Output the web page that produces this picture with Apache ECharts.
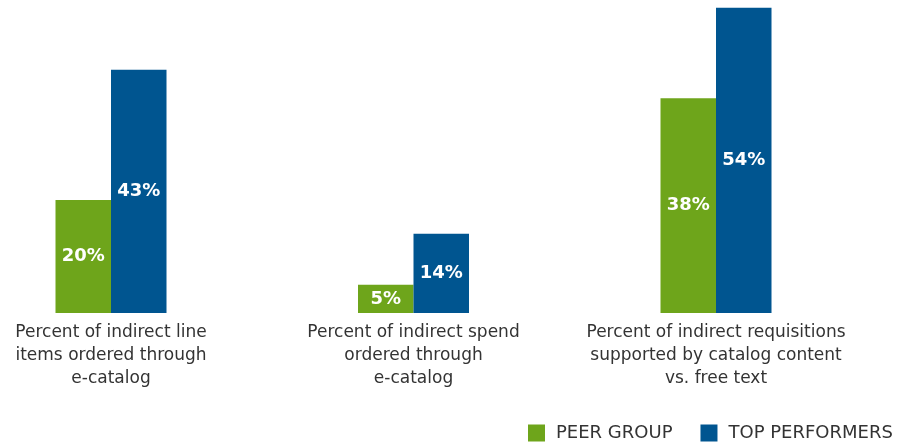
<!DOCTYPE html>
<html>
<head>
<meta charset="utf-8">
<script src="https://cdn.jsdelivr.net/npm/echarts@6/dist/echarts.min.js"></script>
<style>html,body{margin:0;padding:0;background:#fff}#c{width:908px;height:443px}</style>
</head>
<body>
<div id="c"></div>
<script>
const categories = [
  "Percent of indirect line\nitems ordered through\ne-catalog",
  "Percent of indirect spend\nordered through\ne-catalog",
  "Percent of indirect requisitions\nsupported by catalog content\nvs. free text"
];
const peerGroup = [20, 5, 38];
const topPerformers = [43, 14, 54];
const seriesNames = ["PEER GROUP", "TOP PERFORMERS"];

const FONT = 'DejaVu Sans, sans-serif';
const chart = echarts.init(document.getElementById('c'));
const labelStyle = {
  show: true, position: 'inside', color: '#fff', fontWeight: 'bold',
  fontSize: 18, fontFamily: FONT,
  formatter: p => p.value + '%'
};
chart.setOption({
  animation: false,
  grid: { left: 111, right: 192, top: 2, bottom: 130, containLabel: false },
  legend: {
    left: 528, top: 424, padding: 0, itemWidth: 17, itemHeight: 17, itemGap: 28,
    icon: 'rect',
    textStyle: { fontSize: 18, color: '#333', fontFamily: FONT, padding: [0,0,0,6] },
    data: seriesNames
  },
  xAxis: {
    type: 'category', data: categories, boundaryGap: false,
    axisLine: { show: false }, axisTick: { show: false },
    axisLabel: { color: '#333', fontSize: 17, lineHeight: 23, margin: 8, interval: 0,
      fontFamily: FONT, hideOverlap: false }
  },
  yAxis: { type: 'value', min: 0, max: 55, show: false, splitLine: { show: false } },
  series: [
    { name: seriesNames[0], type: 'bar', data: peerGroup, barWidth: 55.5, barGap: '0%',
      itemStyle: { color: '#6EA51B' }, label: labelStyle },
    { name: seriesNames[1], type: 'bar', data: topPerformers, barWidth: 55.5, barGap: '0%',
      itemStyle: { color: '#005590' }, label: labelStyle }
  ]
});
</script>
</body>
</html>
